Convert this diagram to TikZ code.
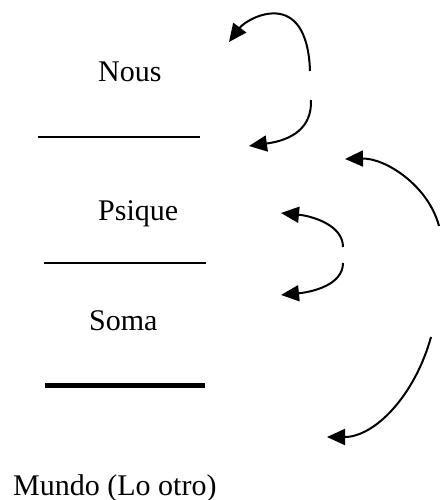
\documentclass[tikz,border=0pt]{standalone}
\usepackage{fontspec}
\setmainfont{Liberation Serif}
\usetikzlibrary{arrows.meta}
\begin{document}
\begin{tikzpicture}[x=1pt,y=-1pt,
  lbl/.style={anchor=base west,inner sep=0pt,font=\fontsize{30}{36}\selectfont},
  sep/.style={line width=1.5pt},
  ground/.style={line width=5pt},
  arr/.style={line width=2pt,-{Triangle[length=18pt,width=16pt]}}]
\useasboundingbox (0,0) rectangle (439,500);
\node[lbl] (nous) at (98,82) {Nous};
\node[lbl] (psique) at (98,220) {Psique};
\node[lbl] (soma) at (89,330) {Soma};
\node[lbl] (mundo) at (13,495) {Mundo (Lo otro)};
\coordinate (l1a) at (38,137); \coordinate (l1b) at (200,137);
\coordinate (l2a) at (44,263); \coordinate (l2b) at (206,263);
\coordinate (l3a) at (45,385); \coordinate (l3b) at (205,385);
\draw[sep] (l1a) -- (l1b);
\draw[sep] (l2a) -- (l2b);
\draw[ground] (l3a) -- (l3b);
% arrows
\coordinate (a1s) at (310,71); \coordinate (a1e) at (229,42);
\coordinate (a2s) at (311,100); \coordinate (a2e) at (249,146);
\coordinate (a3s) at (439,226); \coordinate (a3e) at (345,159);
\coordinate (a4s) at (343,247); \coordinate (a4e) at (281,213);
\coordinate (a5s) at (343,263); \coordinate (a5e) at (281,295);
\coordinate (a6s) at (431,337); \coordinate (a6e) at (327,437);
\draw[arr] (a1s) .. controls (307,-15) and (247,18) .. (a1e);
\draw[arr] (a2s) .. controls (312,128) and (292,140) .. (a2e);
\draw[arr] (a3s) .. controls (428,185) and (385,158) .. (a3e);
\draw[arr] (a4s) .. controls (343,225) and (312,216) .. (a4e);
\draw[arr] (a5s) .. controls (343,285) and (312,292) .. (a5e);
\draw[arr] (a6s) .. controls (415,395) and (375,437) .. (a6e);
\end{tikzpicture}
\end{document}
